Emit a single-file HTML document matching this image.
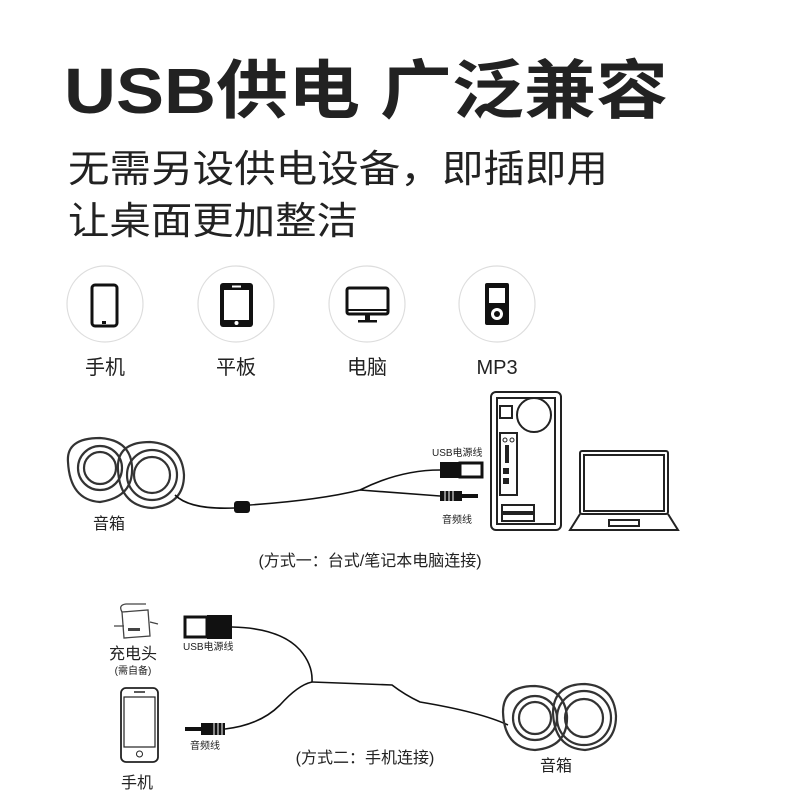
<!DOCTYPE html>
<html><head><meta charset="utf-8"><style>
html,body{margin:0;padding:0;background:#fff;}
svg{display:block}
text{font-family:"Liberation Sans","Noto Sans CJK SC",sans-serif;fill:#222}
</style></head><body>
<svg width="800" height="800" viewBox="0 0 800 800" xmlns="http://www.w3.org/2000/svg">
<rect width="800" height="800" fill="#fff"/>
<text x="64" y="113" font-size="64" font-weight="bold" fill="#111" textLength="604" lengthAdjust="spacingAndGlyphs">USB供电 广泛兼容</text>
<text x="68" y="182" font-size="38" fill="#222" textLength="540" lengthAdjust="spacingAndGlyphs">无需另设供电设备，即插即用</text>
<text x="68" y="234" font-size="38" fill="#222" textLength="290" lengthAdjust="spacingAndGlyphs">让桌面更加整洁</text>

<g fill="none" stroke="#ddd" stroke-width="1.2">
<circle cx="105" cy="304" r="38"/><circle cx="236" cy="304" r="38"/><circle cx="367" cy="304" r="38"/><circle cx="497" cy="304" r="38"/>
</g>
<rect x="92" y="285" width="25" height="41" rx="3" fill="none" stroke="#111" stroke-width="3"/>
<rect x="102" y="321" width="4" height="3" fill="#111"/>
<rect x="220" y="283" width="33" height="44" rx="3" fill="#111"/>
<rect x="224" y="290" width="25" height="30" fill="#fff"/>
<circle cx="236.5" cy="323" r="2" fill="#fff"/>
<rect x="232" y="285.5" width="9" height="2" fill="#fff"/>
<rect x="347" y="288" width="41" height="26" rx="2" fill="none" stroke="#111" stroke-width="3"/>
<line x1="347" y1="310" x2="388" y2="310" stroke="#111" stroke-width="2"/>
<rect x="365" y="315" width="5" height="5" fill="#111"/>
<rect x="358" y="320" width="19" height="2.5" fill="#111"/>
<rect x="485" y="283" width="24" height="42" rx="2" fill="#111"/>
<rect x="489" y="288" width="16" height="15" fill="#fff"/>
<circle cx="497" cy="314" r="6" fill="#fff"/>
<circle cx="497" cy="314" r="3" fill="#111"/>

<g font-size="20" text-anchor="middle" fill="#333">
<text x="105" y="374">手机</text><text x="236" y="374">平板</text><text x="367" y="374">电脑</text><text x="497" y="374">MP3</text>
</g>

<g fill="none" stroke="#333" stroke-width="2.2">
<path d="M68 462 Q66 438 100 438 Q130 440 132 466 Q134 497 100 502 Q70 500 68 462Z"/>
<circle cx="100" cy="468" r="22"/><circle cx="100" cy="468" r="16"/>
<path d="M118 470 Q116 442 150 442 Q182 444 184 475 Q184 504 152 508 Q120 506 118 470Z"/>
<circle cx="152" cy="475" r="25"/><circle cx="152" cy="475" r="18"/>
</g>
<g fill="none" stroke="#111" stroke-width="1.6">
<path d="M175 495 Q190 510 235 508"/>
<path d="M250 505 Q320 500 360 490 Q400 470 440 470"/>
<path d="M360 490 Q400 493 440 496"/>
</g>
<rect x="234" y="501" width="16" height="12" rx="3" fill="#111"/>
<rect x="440" y="462" width="20" height="16" fill="#111"/>
<rect x="460" y="463" width="22" height="14" fill="#fff" stroke="#111" stroke-width="3"/>
<rect x="440" y="491" width="22" height="10" fill="#111"/>
<g stroke="#fff" stroke-width="1"><line x1="445" y1="491" x2="445" y2="501"/><line x1="449" y1="491" x2="449" y2="501"/><line x1="453" y1="491" x2="453" y2="501"/></g>
<rect x="462" y="494" width="16" height="4" fill="#111"/>
<text x="432" y="456" font-size="10">USB电源线</text>
<text x="442" y="523" font-size="10">音频线</text>
<text x="93" y="529" font-size="16">音箱</text>
<g fill="none" stroke="#222" stroke-width="2">
<rect x="491" y="392" width="70" height="138" rx="5"/>
<rect x="497" y="398" width="58" height="126"/>
<circle cx="534" cy="415" r="17"/>
<rect x="500" y="406" width="12" height="12"/>
<rect x="500" y="433" width="17" height="62"/>
<rect x="502" y="505" width="32" height="7"/><rect x="502" y="514" width="32" height="7"/>
</g>
<circle cx="505" cy="440" r="2" fill="none" stroke="#222"/><circle cx="512" cy="440" r="2" fill="none" stroke="#222"/>
<rect x="505" y="445" width="4" height="18" fill="#222"/>
<rect x="503" y="468" width="6" height="6" fill="#222"/><rect x="503" y="478" width="6" height="6" fill="#222"/>
<g fill="none" stroke="#222" stroke-width="2">
<rect x="580" y="451" width="88" height="63" rx="2"/>
<rect x="584" y="455" width="80" height="56"/>
<path d="M580 514 L570 530 L678 530 L668 514"/>
<rect x="609" y="520" width="30" height="6"/>
</g>
<text x="370" y="566" font-size="16" text-anchor="middle">(方式一：台式/笔记本电脑连接)</text>

<g fill="none" stroke="#444" stroke-width="1.3">
<path d="M122 612 L148 610 L150 636 L124 638 Z"/>
<path d="M114 626 L124 626 M150 622 L158 624"/>
<path d="M122 612 Q118 605 126 604 L146 604"/>
</g>
<rect x="128" y="628" width="12" height="3" fill="#444"/>
<text x="133" y="659" font-size="16" text-anchor="middle">充电头</text>
<text x="133" y="674" font-size="10" text-anchor="middle" fill="#555">(需自备)</text>
<rect x="185" y="617" width="22" height="20" fill="#fff" stroke="#111" stroke-width="3"/>
<rect x="207" y="615" width="25" height="24" fill="#111"/>
<text x="183" y="650" font-size="10">USB电源线</text>
<rect x="121" y="688" width="37" height="74" rx="5" fill="none" stroke="#222" stroke-width="1.8"/>
<rect x="124" y="697" width="31" height="50" fill="none" stroke="#222" stroke-width="1.2"/>
<circle cx="139.5" cy="754" r="3" fill="none" stroke="#222"/>
<line x1="134" y1="692" x2="145" y2="692" stroke="#222" stroke-width="1.5"/>
<text x="137" y="788" font-size="16" text-anchor="middle">手机</text>
<rect x="185" y="727" width="16" height="4" fill="#111"/>
<rect x="201" y="723" width="24" height="12" fill="#111"/>
<g stroke="#fff" stroke-width="1"><line x1="214" y1="723" x2="214" y2="735"/><line x1="218" y1="723" x2="218" y2="735"/><line x1="222" y1="723" x2="222" y2="735"/></g>
<text x="190" y="749" font-size="10">音频线</text>
<g fill="none" stroke="#111" stroke-width="1.6">
<path d="M232 627 Q280 628 300 650 Q313 665 312 682"/>
<path d="M225 729 Q260 725 280 705 Q298 685 312 682"/>
<path d="M312 682 L392 685 Q405 695 420 702 Q480 712 508 725"/>
</g>
<g fill="none" stroke="#333" stroke-width="2.2">
<path d="M503 712 Q503 686 535 686 Q564 688 567 716 Q568 747 535 750 Q504 748 503 712Z"/>
<circle cx="535" cy="718" r="22"/><circle cx="535" cy="718" r="16"/>
<path d="M553 712 Q554 684 585 684 Q614 686 616 716 Q616 746 585 750 Q554 748 553 712Z"/>
<circle cx="584" cy="718" r="27"/><circle cx="584" cy="718" r="19"/>
</g>
<text x="556" y="771" font-size="16" text-anchor="middle">音箱</text>
<text x="365" y="763" font-size="16" text-anchor="middle">(方式二：手机连接)</text>
</svg>
</body></html>
